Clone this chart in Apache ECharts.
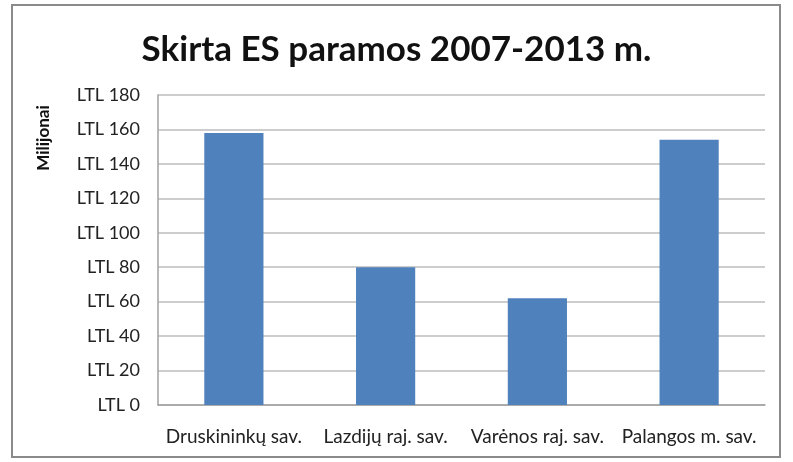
<!DOCTYPE html>
<html>
<head>
<meta charset="utf-8">
<script src="https://cdn.jsdelivr.net/npm/echarts@6/dist/echarts.min.js"></script>
<style>
html,body{margin:0;padding:0;background:#fff;}
#c{width:793px;height:462px;}
</style>
</head>
<body>
<div id="c"></div>
<script>
const categories = ['Druskininkų sav.', 'Lazdijų raj. sav.', 'Varėnos raj. sav.', 'Palangos m. sav.'];
const values = [158, 80, 62, 154];
const yTicks = [0, 20, 40, 60, 80, 100, 120, 140, 160, 180];
const titleText = 'Skirta ES paramos 2007-2013 m.';
const yName = 'Milijonai';

const chart = echarts.init(document.getElementById('c'));
chart.setOption({
  backgroundColor: '#fff',
  animation: false,
  title: {
    text: titleText,
    left: 'center',
    top: 27,
    textStyle: { fontFamily: 'Lato', fontWeight: 'bold', fontSize: 35, color: '#111' }
  },
  graphic: [
    { type: 'rect', shape: { x: 12, y: 5, width: 768, height: 452 },
      style: { fill: 'none', stroke: '#8a8a8a', lineWidth: 2 }, z: -1 },
    { type: 'text', x: 44, y: 138, rotation: Math.PI / 2,
      style: { text: yName, font: 'bold 17px Lato', fill: '#111', align: 'center', verticalAlign: 'middle' } }
  ],
  grid: { left: 158, right: 28, top: 95, bottom: 57, containLabel: false },
  xAxis: {
    type: 'category',
    data: categories,
    axisLine: { lineStyle: { color: '#a0a0a0', width: 1.5 } },
    axisTick: { show: false },
    axisLabel: { fontFamily: 'Lato', fontSize: 19, color: '#222', margin: 22, interval: 0 }
  },
  yAxis: {
    type: 'value',
    min: yTicks[0],
    max: yTicks[yTicks.length - 1],
    interval: 20,
    axisLine: { show: true, lineStyle: { color: '#a0a0a0', width: 1.5 } },
    axisTick: { show: false },
    splitLine: { lineStyle: { color: '#bdbdbd', width: 1.5 } },
    axisLabel: { fontFamily: 'Lato', fontSize: 18, color: '#222', margin: 18, formatter: v => 'LTL ' + v }
  },
  series: [{
    type: 'bar',
    data: values,
    barWidth: '39%',
    itemStyle: { color: '#4f81bd' }
  }]
});
</script>
</body>
</html>
